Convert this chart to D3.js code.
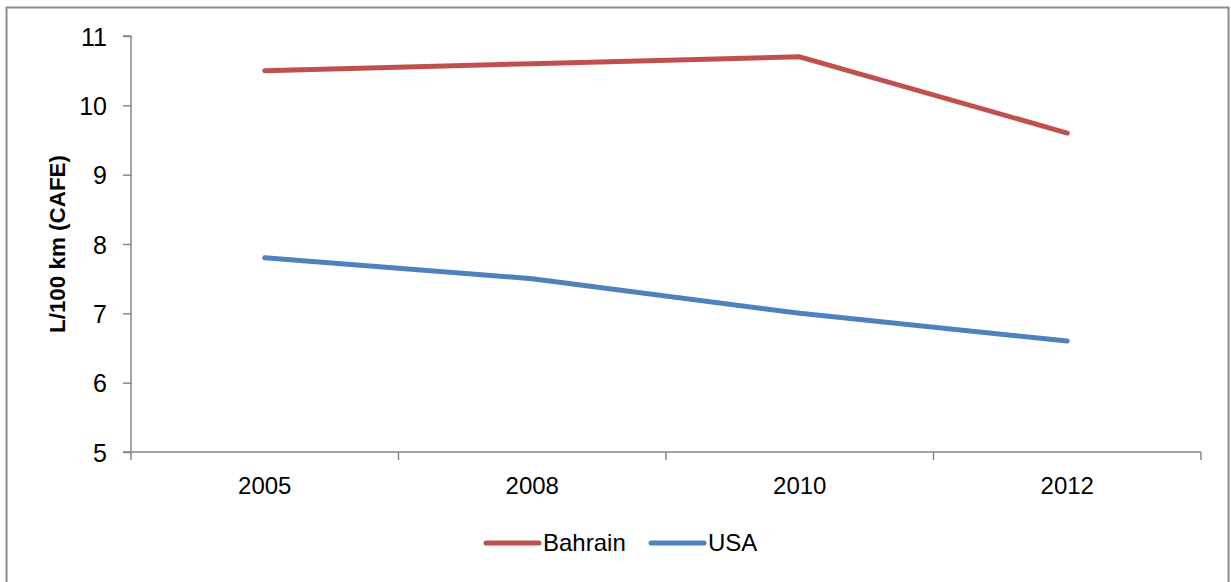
<!DOCTYPE html>
<html>
<head>
<meta charset="utf-8">
<script src="https://cdn.jsdelivr.net/npm/d3@7"></script>
<style>
    body { margin: 0; background: #fff; }
    svg text { font-family: "Liberation Sans", Arial, sans-serif; fill: #000; }
</style>
</head>
<body>
<svg id="chart" width="1231" height="582"></svg>
<script>
var years = ['2005', '2008', '2010', '2012'];
var bahrain = [10.5, 10.6, 10.7, 9.6];
var usa = [7.8, 7.5, 7.0, 6.6];
var yTicks = [5, 6, 7, 8, 9, 10, 11];
var seriesNames = ['Bahrain', 'USA'];
var seriesColors = ['#C0504D', '#4F81BD'];

var svg = d3.select('#chart');
var margin = { left: 131, right: 1201, top: 36, bottom: 452 };

// outer frame
svg.append('rect').attr('x', 6.5).attr('y', 7.5).attr('width', 1222).attr('height', 590)
    .attr('fill', '#fff').attr('stroke', '#8c8c8c').attr('stroke-width', 2);

var x = d3.scaleBand().domain(years).range([margin.left, margin.right]);
var y = d3.scaleLinear().domain([5, 11]).range([margin.bottom, margin.top]);

// y axis
var yAxis = svg.append('g').attr('transform', 'translate(' + margin.left + ',0)')
    .call(d3.axisLeft(y).tickValues(yTicks).tickFormat(d3.format('d')).tickSize(8).tickPadding(16));
yAxis.select('.domain').attr('stroke', '#878787').attr('stroke-width', 1.5).attr('d', 'M-8,' + y(11) + 'H0V' + y(5) + 'H-8');
yAxis.selectAll('.tick line').attr('stroke', '#878787').attr('stroke-width', 1.5);
yAxis.selectAll('.tick text').attr('font-size', 25).attr('dy', '0.36em');

// x axis with ticks at category boundaries
var xAxis = svg.append('g').attr('transform', 'translate(0,' + margin.bottom + ')')
    .call(d3.axisBottom(x).tickSize(0).tickPadding(0));
xAxis.select('.domain').attr('stroke', '#878787').attr('stroke-width', 1.5).attr('d', 'M' + margin.left + ',0H' + margin.right);
xAxis.selectAll('.tick text').attr('font-size', 24).attr('dy', null).attr('y', 42);
var bounds = years.map(function(d) { return x(d); }).concat([margin.right]);
svg.append('g').selectAll('line').data(bounds).enter().append('line')
    .attr('x1', function(d) { return d; }).attr('x2', function(d) { return d; })
    .attr('y1', margin.bottom).attr('y2', margin.bottom + 8)
    .attr('stroke', '#878787').attr('stroke-width', 1.5);

// y title
svg.append('text').attr('transform', 'translate(65,' + ((margin.top + margin.bottom) / 2) + ') rotate(-90)')
    .attr('text-anchor', 'middle').attr('font-size', 22).attr('font-weight', 'bold')
    .attr('textLength', 178).attr('lengthAdjust', 'spacingAndGlyphs')
    .text('L/100 km (CAFE)');

// lines
var line = d3.line()
    .x(function(d, i) { return x(years[i]) + x.bandwidth() / 2; })
    .y(function(d) { return y(d); });
[bahrain, usa].forEach(function(s, i) {
    svg.append('path').datum(s).attr('d', line).attr('fill', 'none')
        .attr('stroke', seriesColors[i]).attr('stroke-width', 5)
        .attr('stroke-linecap', 'round').attr('stroke-linejoin', 'round');
});

// legend
var legendX = [486, 651];
var legend = svg.append('g').selectAll('g').data(seriesNames).enter().append('g')
    .attr('transform', function(d, i) { return 'translate(' + legendX[i] + ',543)'; });
legend.append('line').attr('x1', 0).attr('x2', 53).attr('y1', 0).attr('y2', 0)
    .attr('stroke', function(d, i) { return seriesColors[i]; }).attr('stroke-width', 5).attr('stroke-linecap', 'round');
legend.append('text').attr('x', 57).attr('y', 8).attr('font-size', 24).text(function(d) { return d; });
</script>
</body>
</html>
